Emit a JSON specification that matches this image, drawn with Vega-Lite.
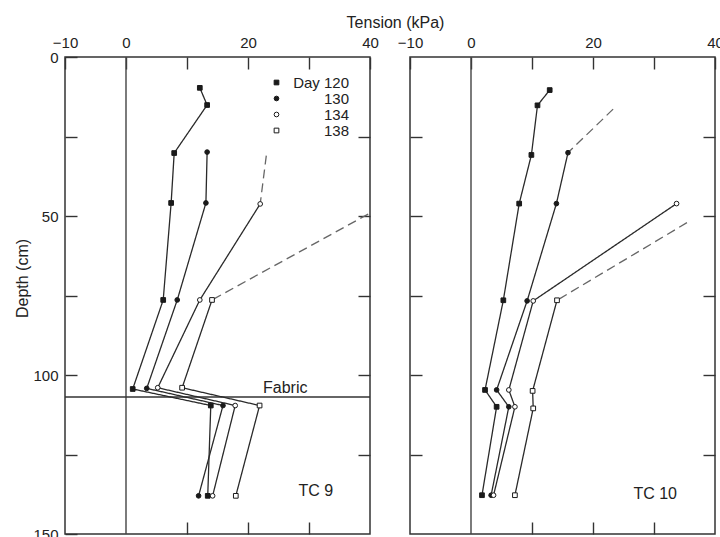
{
  "$schema": "https://vega.github.io/schema/vega-lite/v6.json",
  "background": "white",
  "padding": {"left": 13, "top": 13, "right": 2, "bottom": 2},
  "spacing": 40,
  "bounds": "flush",
  "config": {
    "font": "Liberation Sans",
    "view": {"stroke": "#333333", "strokeWidth": 1.5},
    "axis": {
      "domain": false,
      "grid": false,
      "tickColor": "#333333",
      "tickWidth": 1.4,
      "tickSize": -12,
      "labelFont": "Liberation Sans",
      "labelFontSize": 15,
      "labelColor": "#222222",
      "labelFlush": false,
      "labelPadding": 19,
      "titleFont": "Liberation Sans",
      "titleFontSize": 16,
      "titleFontWeight": "normal",
      "titleColor": "#222222"
    },
    "legend": {"labelFont": "Liberation Sans"}
  },
  "datasets": {
    "profiles": [
      {"p": "TC 9", "day": "120", "line": "solid", "kpa": 12.1, "depth": 9.7},
      {"p": "TC 9", "day": "120", "line": "solid", "kpa": 13.3, "depth": 15.1},
      {"p": "TC 9", "day": "120", "line": "solid", "kpa": 7.9, "depth": 30.2},
      {"p": "TC 9", "day": "120", "line": "solid", "kpa": 7.4, "depth": 45.9},
      {"p": "TC 9", "day": "120", "line": "solid", "kpa": 6.1, "depth": 76.4},
      {"p": "TC 9", "day": "120", "line": "solid", "kpa": 1.1, "depth": 104.4},
      {"p": "TC 9", "day": "120", "line": "solid", "kpa": 13.9, "depth": 109.6},
      {"p": "TC 9", "day": "120", "line": "solid", "kpa": 13.4, "depth": 138},
      {"p": "TC 9", "day": "130", "line": "solid", "kpa": 13.3, "depth": 29.9},
      {"p": "TC 9", "day": "130", "line": "solid", "kpa": 13.1, "depth": 45.9},
      {"p": "TC 9", "day": "130", "line": "solid", "kpa": 8.4, "depth": 76.4},
      {"p": "TC 9", "day": "130", "line": "solid", "kpa": 3.4, "depth": 104.2},
      {"p": "TC 9", "day": "130", "line": "solid", "kpa": 15.9, "depth": 109.6},
      {"p": "TC 9", "day": "130", "line": "solid", "kpa": 11.9, "depth": 138},
      {"p": "TC 9", "day": "134", "line": "solid", "kpa": 22.0, "depth": 46.2},
      {"p": "TC 9", "day": "134", "line": "solid", "kpa": 12.1, "depth": 76.4},
      {"p": "TC 9", "day": "134", "line": "solid", "kpa": 5.2, "depth": 104.0},
      {"p": "TC 9", "day": "134", "line": "solid", "kpa": 17.9, "depth": 109.6},
      {"p": "TC 9", "day": "134", "line": "solid", "kpa": 14.2, "depth": 138},
      {"p": "TC 9", "day": "134", "line": "dashed", "kpa": 23.0, "depth": 31.0},
      {"p": "TC 9", "day": "134", "line": "dashed", "kpa": 22.0, "depth": 46.2},
      {"p": "TC 9", "day": "138", "line": "solid", "kpa": 14.1, "depth": 76.4},
      {"p": "TC 9", "day": "138", "line": "solid", "kpa": 9.2, "depth": 104.0},
      {"p": "TC 9", "day": "138", "line": "solid", "kpa": 21.9, "depth": 109.6},
      {"p": "TC 9", "day": "138", "line": "solid", "kpa": 18.0, "depth": 138},
      {"p": "TC 9", "day": "138", "line": "dashed", "kpa": 39.7, "depth": 49.4},
      {"p": "TC 9", "day": "138", "line": "dashed", "kpa": 14.1, "depth": 76.4},
      {"p": "TC 10", "day": "120", "line": "solid", "kpa": 12.9, "depth": 10.4},
      {"p": "TC 10", "day": "120", "line": "solid", "kpa": 10.9, "depth": 15.2},
      {"p": "TC 10", "day": "120", "line": "solid", "kpa": 9.9, "depth": 30.8},
      {"p": "TC 10", "day": "120", "line": "solid", "kpa": 7.9, "depth": 46.1},
      {"p": "TC 10", "day": "120", "line": "solid", "kpa": 5.3, "depth": 76.5},
      {"p": "TC 10", "day": "120", "line": "solid", "kpa": 2.3, "depth": 104.7},
      {"p": "TC 10", "day": "120", "line": "solid", "kpa": 4.2, "depth": 110.0},
      {"p": "TC 10", "day": "120", "line": "solid", "kpa": 1.8, "depth": 137.8},
      {"p": "TC 10", "day": "130", "line": "solid", "kpa": 15.9, "depth": 30.1},
      {"p": "TC 10", "day": "130", "line": "solid", "kpa": 14.0, "depth": 46.1},
      {"p": "TC 10", "day": "130", "line": "solid", "kpa": 9.2, "depth": 76.7},
      {"p": "TC 10", "day": "130", "line": "solid", "kpa": 4.2, "depth": 104.7},
      {"p": "TC 10", "day": "130", "line": "solid", "kpa": 6.2, "depth": 110.0},
      {"p": "TC 10", "day": "130", "line": "solid", "kpa": 3.3, "depth": 137.8},
      {"p": "TC 10", "day": "130", "line": "dashed", "kpa": 23.3, "depth": 16.4},
      {"p": "TC 10", "day": "130", "line": "dashed", "kpa": 15.9, "depth": 30.1},
      {"p": "TC 10", "day": "134", "line": "solid", "kpa": 33.7, "depth": 46.1},
      {"p": "TC 10", "day": "134", "line": "solid", "kpa": 10.2, "depth": 76.7},
      {"p": "TC 10", "day": "134", "line": "solid", "kpa": 6.2, "depth": 104.7},
      {"p": "TC 10", "day": "134", "line": "solid", "kpa": 7.2, "depth": 110.0},
      {"p": "TC 10", "day": "134", "line": "solid", "kpa": 3.7, "depth": 137.8},
      {"p": "TC 10", "day": "138", "line": "solid", "kpa": 14.1, "depth": 76.5},
      {"p": "TC 10", "day": "138", "line": "solid", "kpa": 10.1, "depth": 105.0},
      {"p": "TC 10", "day": "138", "line": "solid", "kpa": 10.2, "depth": 110.5},
      {"p": "TC 10", "day": "138", "line": "solid", "kpa": 7.2, "depth": 137.8},
      {"p": "TC 10", "day": "138", "line": "dashed", "kpa": 35.4, "depth": 52.1},
      {"p": "TC 10", "day": "138", "line": "dashed", "kpa": 14.1, "depth": 76.5}
    ],
    "notes": [
      {"p": "TC 9", "label": "Fabric", "kpa": 26.1, "depth": 104.1},
      {"p": "TC 9", "label": "TC 9", "kpa": 31.1, "depth": 136.5},
      {"p": "TC 10", "label": "TC 10", "kpa": 30.2, "depth": 137.3}
    ]
  },
  "resolve": {"scale": {"shape": "independent", "fill": "independent"}},
  "hconcat": [
    {
      "width": 305,
      "height": 477,
      "layer": [
        {
          "layer": [
            {
              "data": {"values": [{"kpa": 0}]},
              "mark": {"type": "rule", "color": "#444444", "strokeWidth": 1.4},
              "encoding": {"x": {"field": "kpa", "type": "quantitative"}}
            },
            {
              "data": {"values": [{"depth": 106.9}]},
              "mark": {"type": "rule", "color": "#333333", "strokeWidth": 1.4},
              "encoding": {"y": {"field": "depth", "type": "quantitative"}}
            },
            {
              "data": {"name": "profiles"},
              "transform": [{"filter": "datum.p == 'TC 9'"}],
              "mark": {"type": "line", "strokeWidth": 1.3},
              "encoding": {
                "x": {
                  "field": "kpa", "type": "quantitative",
                  "scale": {"domain": [-10, 40], "nice": false, "zero": false},
                  "axis": {
                    "orient": "top",
                    "values": [-10, 0, 10, 20, 30, 40],
                    "labelExpr": "datum.value == 10 || datum.value == 30 ? '' : datum.label",
                    "title": "Tension (kPa)",
                    "titleX": 330, "titleY": -35,
                    "titleAlign": "center", "titleBaseline": "middle", "titleAngle": 0
                  }
                },
                "y": {
                  "field": "depth", "type": "quantitative",
                  "scale": {"domain": [0, 150], "reverse": true, "nice": false, "zero": false},
                  "axis": {
                    "orient": "left",
                    "values": [0, 25, 50, 75, 100, 125, 150],
                    "labelExpr": "datum.value % 50 == 0 ? datum.label : ''",
                    "title": "Depth (cm)",
                    "titleX": -43, "titleY": 221,
                    "titleAngle": -90, "titleAlign": "center", "titleBaseline": "middle"
                  }
                },
                "detail": [{"field": "day"}, {"field": "line"}],
                "order": {"field": "depth", "type": "quantitative"},
                "strokeDash": {"field": "line", "type": "nominal", "scale": {"domain": ["solid", "dashed"], "range": [[1, 0], [9, 5]]}, "legend": null},
                "color": {"field": "line", "type": "nominal", "scale": {"domain": ["solid", "dashed"], "range": ["#2a2a2a", "#666666"]}, "legend": null}
              }
            },
            {
              "data": {"name": "notes"},
              "transform": [{"filter": "datum.p == 'TC 9'"}],
              "mark": {"type": "text", "fontSize": 16, "color": "#222222", "align": "center", "baseline": "middle"},
              "encoding": {
                "x": {"field": "kpa", "type": "quantitative"},
                "y": {"field": "depth", "type": "quantitative"},
                "text": {"field": "label"}
              }
            }
          ]
        },
        {
          "data": {"name": "profiles"},
          "transform": [{"filter": "datum.p == 'TC 9' && datum.line == 'solid'"}],
          "mark": {"type": "point", "filled": true, "stroke": "#1a1a1a", "strokeWidth": 1, "size": 22, "opacity": 1},
          "encoding": {
            "x": {
              "field": "kpa", "type": "quantitative",
              "scale": {"domain": [-10, 40], "nice": false, "zero": false},
              "axis": {"orient": "bottom", "values": [10, 20, 30], "labels": false, "title": null}
            },
            "y": {
              "field": "depth", "type": "quantitative",
              "scale": {"domain": [0, 150], "reverse": true, "nice": false, "zero": false},
              "axis": {"orient": "right", "values": [25, 50, 75, 100, 125], "labels": false, "title": null}
            },
            "shape": {
              "field": "day", "type": "nominal",
              "scale": {"domain": ["120", "130", "134", "138"], "range": ["square", "circle", "circle", "square"]},
              "legend": {
                "orient": "none", "legendX": 204, "legendY": 18, "title": null, "padding": 0,
                "labelExpr": "datum.label == '120' ? 'Day 120' : datum.label",
                "labelAlign": "right", "labelOffset": 65, "labelFontSize": 15, "labelColor": "#222222",
                "symbolSize": 22, "symbolStrokeColor": "#1a1a1a", "symbolStrokeWidth": 1, "rowPadding": 0,
                "symbolOpacity": 1,
                "encode": {"symbols": {"update": {"stroke": {"value": "#1a1a1a"}, "strokeWidth": {"value": 1}}}}
              }
            },
            "fill": {
              "field": "day", "type": "nominal",
              "scale": {"domain": ["120", "130", "134", "138"], "range": ["#1a1a1a", "#1a1a1a", "#ffffff", "#ffffff"]},
              "legend": {
                "orient": "none", "legendX": 204, "legendY": 18, "title": null, "padding": 0,
                "labelExpr": "datum.label == '120' ? 'Day 120' : datum.label",
                "labelAlign": "right", "labelOffset": 65, "labelFontSize": 15, "labelColor": "#222222",
                "symbolSize": 22, "symbolStrokeColor": "#1a1a1a", "symbolStrokeWidth": 1, "rowPadding": 0,
                "symbolOpacity": 1,
                "encode": {"symbols": {"update": {"stroke": {"value": "#1a1a1a"}, "strokeWidth": {"value": 1}}}}
              }
            }
          }
        }
      ],
      "resolve": {"axis": {"x": "independent", "y": "independent"}}
    },
    {
      "width": 305,
      "height": 477,
      "layer": [
        {
          "layer": [
            {
              "data": {"values": [{"kpa": 0}]},
              "mark": {"type": "rule", "color": "#444444", "strokeWidth": 1.4},
              "encoding": {"x": {"field": "kpa", "type": "quantitative"}}
            },
            {
              "data": {"name": "profiles"},
              "transform": [{"filter": "datum.p == 'TC 10'"}],
              "mark": {"type": "line", "strokeWidth": 1.3},
              "encoding": {
                "x": {
                  "field": "kpa", "type": "quantitative",
                  "scale": {"domain": [-10, 40], "nice": false, "zero": false},
                  "axis": {
                    "orient": "top",
                    "values": [-10, 0, 10, 20, 30, 40],
                    "labelExpr": "datum.value == 10 || datum.value == 30 ? '' : datum.label",
                    "title": null
                  }
                },
                "y": {
                  "field": "depth", "type": "quantitative",
                  "scale": {"domain": [0, 150], "reverse": true, "nice": false, "zero": false},
                  "axis": {"orient": "left", "values": [25, 50, 75, 100, 125], "labels": false, "title": null}
                },
                "detail": [{"field": "day"}, {"field": "line"}],
                "order": {"field": "depth", "type": "quantitative"},
                "strokeDash": {"field": "line", "type": "nominal", "scale": {"domain": ["solid", "dashed"], "range": [[1, 0], [9, 5]]}, "legend": null},
                "color": {"field": "line", "type": "nominal", "scale": {"domain": ["solid", "dashed"], "range": ["#2a2a2a", "#666666"]}, "legend": null}
              }
            },
            {
              "data": {"name": "notes"},
              "transform": [{"filter": "datum.p == 'TC 10'"}],
              "mark": {"type": "text", "fontSize": 16, "color": "#222222", "align": "center", "baseline": "middle"},
              "encoding": {
                "x": {"field": "kpa", "type": "quantitative"},
                "y": {"field": "depth", "type": "quantitative"},
                "text": {"field": "label"}
              }
            }
          ]
        },
        {
          "data": {"name": "profiles"},
          "transform": [{"filter": "datum.p == 'TC 10' && datum.line == 'solid'"}],
          "mark": {"type": "point", "filled": true, "stroke": "#1a1a1a", "strokeWidth": 1, "size": 22, "opacity": 1},
          "encoding": {
            "x": {
              "field": "kpa", "type": "quantitative",
              "scale": {"domain": [-10, 40], "nice": false, "zero": false},
              "axis": {"orient": "bottom", "values": [10, 20, 30], "labels": false, "title": null}
            },
            "y": {
              "field": "depth", "type": "quantitative",
              "scale": {"domain": [0, 150], "reverse": true, "nice": false, "zero": false},
              "axis": {"orient": "right", "values": [25, 50, 75, 100, 125], "labels": false, "title": null}
            },
            "shape": {
              "field": "day", "type": "nominal",
              "scale": {"domain": ["120", "130", "134", "138"], "range": ["square", "circle", "circle", "square"]},
              "legend": null
            },
            "fill": {
              "field": "day", "type": "nominal",
              "scale": {"domain": ["120", "130", "134", "138"], "range": ["#1a1a1a", "#1a1a1a", "#ffffff", "#ffffff"]},
              "legend": null
            }
          }
        }
      ],
      "resolve": {"axis": {"x": "independent", "y": "independent"}}
    }
  ]
}
